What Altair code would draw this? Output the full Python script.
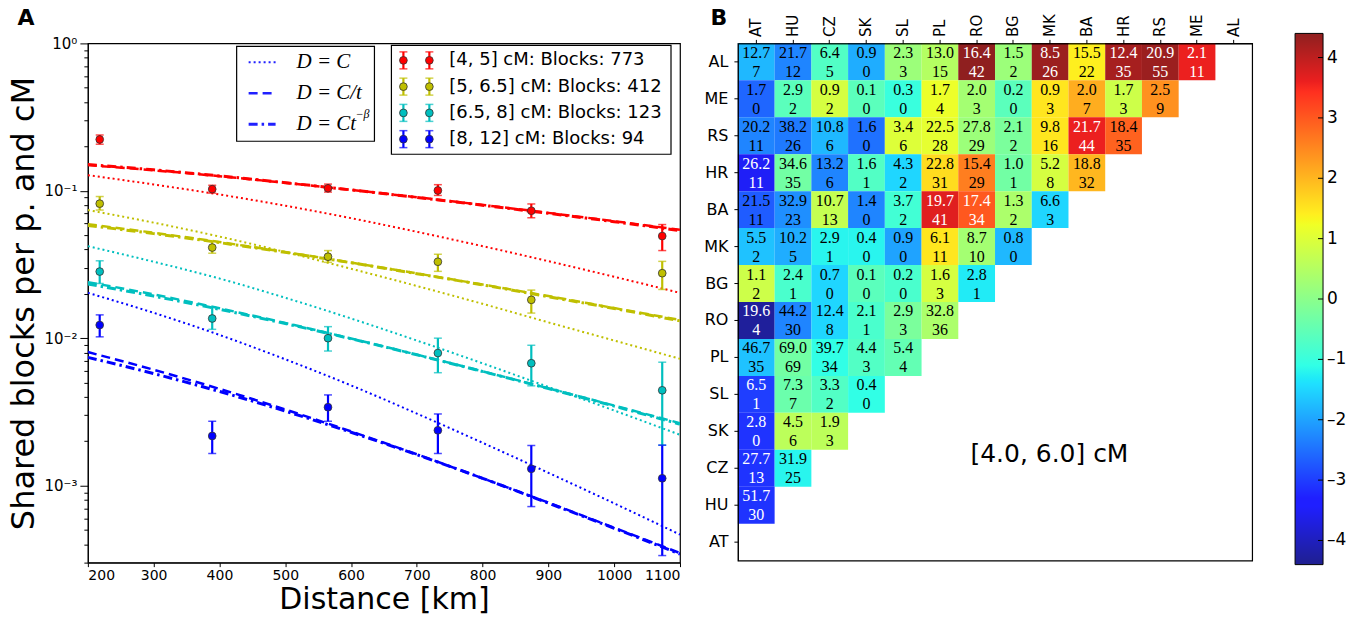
import altair as alt
import pandas as pd

# ---------------- Panel A data ----------------
distance_km = [218, 389, 565, 732, 874, 1073]
series_names = ["[4, 5] cM: Blocks: 773", "[5, 6.5] cM: Blocks: 412",
                "[6.5, 8] cM: Blocks: 123", "[8, 12] cM: Blocks: 94"]
series_colors = ["#ff0000", "#bfbf00", "#00bfbf", "#0000ff"]

obs_mean = [
    [0.223, 0.1026, 0.104, 0.1005, 0.0732, 0.0493],
    [0.0818, 0.0412, 0.0357, 0.033, 0.0182, 0.0276],
    [0.0283, 0.0136, 0.0100, 0.00793, 0.00676, 0.00443],
    [0.01228, 0.00217, 0.0034, 0.00237, 0.0013, 0.00112],
]
obs_low = [
    [0.207, 0.0964, 0.098, 0.093, 0.0656, 0.0393],
    [0.074, 0.0377, 0.0327, 0.0284, 0.0148, 0.0214],
    [0.0235, 0.01148, 0.00818, 0.00583, 0.00475, 0.00188],
    [0.01021, 0.00165, 0.00273, 0.00165, 0.00072, 0.000335],
]
obs_high = [
    [0.239, 0.109, 0.111, 0.110, 0.0814, 0.059],
    [0.0914, 0.0455, 0.0393, 0.0371, 0.0212, 0.0332],
    [0.0335, 0.01626, 0.01197, 0.0100, 0.00895, 0.00687],
    [0.01439, 0.00273, 0.00412, 0.00306, 0.00187, 0.00188],
]

fit_x = [200, 300, 400, 500, 600, 700, 800, 900, 1000, 1100]
model_names = ["D=C", "D=C/t", "D=Ct^-b"]
model_labels = ["D = C", "D = C/t", "D = Ct"]
fit_const = [
    [0.1276, 0.1104, 0.0944, 0.0792, 0.0652, 0.0527, 0.0421, 0.0333, 0.0261, 0.0203],
    [0.0740, 0.0608, 0.0489, 0.0384, 0.0296, 0.0226, 0.0171, 0.0128, 0.00964, 0.00724],
    [0.0421, 0.0330, 0.0254, 0.0188, 0.0136, 0.00964, 0.00675, 0.00467, 0.00323, 0.00221],
    [0.0203, 0.01486, 0.01052, 0.00719, 0.00478, 0.00308, 0.00195, 0.00122, 0.000757, 0.000465],
]
fit_inv_t = [
    [0.1493, 0.1377, 0.1256, 0.1132, 0.1014, 0.0904, 0.0802, 0.0708, 0.0622, 0.0543],
    [0.0593, 0.0519, 0.0449, 0.0384, 0.0326, 0.0275, 0.0231, 0.0193, 0.0160, 0.0133],
    [0.0240, 0.0198, 0.01596, 0.01268, 0.00995, 0.00773, 0.00596, 0.00457, 0.00349, 0.00265],
    [0.00805, 0.00611, 0.00453, 0.00328, 0.00233, 0.00163, 0.00112, 0.000766, 0.000518, 0.000348],
]
fit_power = [
    [0.1507, 0.1387, 0.1262, 0.1135, 0.1014, 0.0902, 0.0798, 0.0703, 0.0617, 0.0537],
    [0.0582, 0.0512, 0.0445, 0.0382, 0.0325, 0.0274, 0.0230, 0.0191, 0.0159, 0.0131],
    [0.0233, 0.0193, 0.0157, 0.01256, 0.00991, 0.00771, 0.00594, 0.00455, 0.00346, 0.00261],
    [0.00741, 0.00575, 0.00435, 0.00320, 0.00230, 0.00162, 0.00112, 0.000760, 0.000513, 0.000343],
]

# ---------------- Panel B data ----------------
pop_cols = ["AT", "HU", "CZ", "SK", "SL", "PL", "RO", "BG", "MK", "BA", "HR", "RS", "ME", "AL"]
pop_rows = ["AL", "ME", "RS", "HR", "BA", "MK", "BG", "RO", "PL", "SL", "SK", "CZ", "HU", "AT"]
cell_top = [
    [12.7, 21.7, 6.4, 0.9, 2.3, 13.0, 16.4, 1.5, 8.5, 15.5, 12.4, 20.9, 2.1],
    [1.7, 2.9, 0.9, 0.1, 0.3, 1.7, 2.0, 0.2, 0.9, 2.0, 1.7, 2.5],
    [20.2, 38.2, 10.8, 1.6, 3.4, 22.5, 27.8, 2.1, 9.8, 21.7, 18.4],
    [26.2, 34.6, 13.2, 1.6, 4.3, 22.8, 15.4, 1.0, 5.2, 18.8],
    [21.5, 32.9, 10.7, 1.4, 3.7, 19.7, 17.4, 1.3, 6.6],
    [5.5, 10.2, 2.9, 0.4, 0.9, 6.1, 8.7, 0.8],
    [1.1, 2.4, 0.7, 0.1, 0.2, 1.6, 2.8],
    [19.6, 44.2, 12.4, 2.1, 2.9, 32.8],
    [46.7, 69.0, 39.7, 4.4, 5.4],
    [6.5, 7.3, 3.3, 0.4],
    [2.8, 4.5, 1.9],
    [27.7, 31.9],
    [51.7],
    [],
]
cell_bottom = [
    [7, 12, 5, 0, 3, 15, 42, 2, 26, 22, 35, 55, 11],
    [0, 2, 2, 0, 0, 4, 3, 0, 3, 7, 3, 9],
    [11, 26, 6, 0, 6, 28, 29, 2, 16, 44, 35],
    [11, 35, 6, 1, 2, 31, 29, 1, 8, 32],
    [11, 23, 13, 0, 2, 41, 34, 2, 3],
    [2, 5, 1, 0, 0, 11, 10, 0],
    [2, 1, 0, 0, 0, 3, 1],
    [4, 30, 8, 1, 3, 36],
    [35, 69, 34, 3, 4],
    [1, 7, 2, 0],
    [0, 6, 3],
    [13, 25],
    [30],
    [],
]
cell_z = [
    [-1.8, -2.3, -0.7, -1.9, 0.2, 0.5, 4.4, 0.2, 4.3, 1.4, 4.2, 4.3, 3.6],
    [-2.6, -0.6, 0.9, -0.6, -1.0, 1.2, 0.3, -0.6, 1.5, 2.1, 0.8, 2.4],
    [-2.3, -2.4, -1.8, -2.5, 1.0, 1.1, 0.2, -0.2, 1.5, 3.6, 2.9],
    [-3.5, -0.3, -2.3, -0.7, -1.5, 1.6, 2.6, -0.3, 0.9, 2.0],
    [-2.7, -2.2, 0.7, -2.3, -0.9, 3.7, 3.0, 0.4, -1.5],
    [-1.7, -1.9, -1.2, -1.2, -2.0, 1.5, 0.3, -1.8],
    [0.8, -0.8, -1.5, -0.6, -0.8, 0.9, -1.3],
    [-4.3, -2.3, -1.5, -0.8, -0.2, 0.4],
    [-1.7, -0.3, -1.1, -0.7, -0.5],
    [-3.0, -0.4, -0.7, -1.1],
    [-3.1, 0.6, 0.6],
    [-3.1, -1.2],
    [-3.1],
    [],
]
z_min, z_max = -4.4, 4.4
colorbar_ticks = [-4, -3, -2, -1, 0, 1, 2, 3, 4]
note_text = "[4.0, 6.0] cM"

# ---------------- styling helpers ----------------
jet_t = [0, 0.11, 0.125, 0.34, 0.35, 0.375, 0.64, 0.65, 0.66, 0.89, 0.91, 1]
jet_rgb = [(0, 0, .5), (0, 0, 1), (0, 0, 1), (0, .86, 1), (0, .9, .968), (.081, 1, .887),
           (.935, 1, .032), (.968, .963, 0), (1, .926, 0), (1, .074, 0), (.909, 0, 0), (.5, 0, 0)]
jet_hex = ["#%02x%02x%02x" % tuple(int(round(c * 255)) for c in rgb) for rgb in jet_rgb]
jet_domain = [z_min + (z_max - z_min) * t for t in jet_t]

SANS = "DejaVu Sans"
SERIF = "Liberation Serif"
CELL_OPACITY = 0.88

# ---------------- Panel A ----------------
pts = pd.DataFrame([
    {"series": s, "distance": d, "share": m, "lo": lo, "hi": hi}
    for i, s in enumerate(series_names)
    for d, m, lo, hi in zip(distance_km, obs_mean[i], obs_low[i], obs_high[i])
])
fit = pd.DataFrame([
    {"series": s, "model": mn, "distance": d, "share": v}
    for mn, table in zip(model_names, [fit_const, fit_inv_t, fit_power])
    for i, s in enumerate(series_names)
    for d, v in zip(fit_x, table[i])
])

color_scale = alt.Scale(domain=series_names, range=series_colors)
dash_scale = alt.Scale(domain=model_names, range=[[2, 3], [9, 5], [9, 4, 2.5, 4]])
width_scale = alt.Scale(domain=model_names, range=[2, 3, 3])

y_ticks = sorted({round(m * 10 ** k, 12) for k in (-4, -3, -2, -1) for m in range(1, 10)
                  if 3e-4 <= m * 10 ** k <= 1} | {1})

x_axis_A = alt.Axis(values=list(range(200, 1101, 100)), title="Distance [km]", format="d",
                    titleFontSize=30, labelFontSize=14, tickSize=4, labelPadding=2,
                    titlePadding=2, labelFont=SANS)
xA = alt.X("distance:Q", scale=alt.Scale(domain=[200, 1100], nice=False, zero=False), axis=x_axis_A)

y_axis_A = alt.Axis(
    values=y_ticks, title="Shared blocks per p. and cM", titleFontSize=32, titlePadding=3,
    labelExpr="datum.value == 1 ? '10⁰' : datum.value == 0.1 ? '10⁻¹' : datum.value == 0.01 ? '10⁻²' : datum.value == 0.001 ? '10⁻³' : ''",
    labelOverlap=False, labelFontSize=15, labelPadding=3, labelFont=SANS,
    tickSize={"condition": {"test": "indexof([1, 0.1, 0.01, 0.001], datum.value) >= 0", "value": 8}, "value": 4},
)
y_scale_A = alt.Scale(type="log", domain=[3e-4, 1], nice=False)


def yA(field):
    return alt.Y(f"{field}:Q", scale=y_scale_A, axis=y_axis_A)


lines = alt.Chart(fit).mark_line(interpolate="monotone", clip=True).encode(
    x=xA, y=yA("share"),
    color=alt.Color("series:N", scale=color_scale, legend=None),
    strokeDash=alt.StrokeDash("model:N", scale=dash_scale, legend=None),
    strokeWidth=alt.StrokeWidth("model:O", scale=width_scale, legend=None),
    detail="model:N",
)
bars = alt.Chart(pts).mark_rule(strokeWidth=2.2).encode(
    x=xA, y=yA("lo"), y2="hi:Q", color=alt.Color("series:N", scale=color_scale, legend=None))
cap_lo = alt.Chart(pts).mark_tick(orient="horizontal", size=8, thickness=1.5).encode(
    x=xA, y=yA("lo"), color=alt.Color("series:N", scale=color_scale, legend=None))
cap_hi = alt.Chart(pts).mark_tick(orient="horizontal", size=8, thickness=1.5).encode(
    x=xA, y=yA("hi"), color=alt.Color("series:N", scale=color_scale, legend=None))
points = alt.Chart(pts).mark_circle(size=60, opacity=1, stroke="#333333", strokeWidth=0.8).encode(
    x=xA, y=yA("share"), fill=alt.Fill("series:N", scale=color_scale, legend=None))

# legend 1 (model line styles)
box1 = alt.Chart(pd.DataFrame({"k": [0]})).mark_rect(fill="white", stroke="black", strokeWidth=1.2).encode(
    x=alt.value(149), x2=alt.value(287), y=alt.value(3), y2=alt.value(98))
leg1 = pd.DataFrame({"model": model_names, "label": model_labels,
                     "ly": [19 + 31 * i for i in range(3)]})
leg1["lx1"] = 161
leg1["lx2"] = 188
leg1["tx"] = 209
leg1_lines = alt.Chart(leg1).mark_rule(color="#2020ff").encode(
    x=alt.X("lx1:Q", scale=None), x2="lx2:Q", y=alt.Y("ly:Q", scale=None),
    strokeDash=alt.StrokeDash("model:N", scale=dash_scale, legend=None),
    strokeWidth=alt.StrokeWidth("model:O", scale=width_scale, legend=None))
leg1_text = alt.Chart(leg1).mark_text(font=SERIF, fontStyle="italic", fontSize=21, align="left",
                                       baseline="middle").encode(
    x=alt.X("tx:Q", scale=None), y=alt.Y("ly:Q", scale=None), text="label:N")
leg1_sup = alt.Chart(pd.DataFrame({"t": ["−β"]})).mark_text(
    font=SERIF, fontStyle="italic", fontSize=12, align="left", baseline="middle").encode(
    x=alt.value(268), y=alt.value(71), text="t:N")

# legend 2 (series)
box2 = alt.Chart(pd.DataFrame({"k": [0]})).mark_rect(fill="white", stroke="black", strokeWidth=1.2).encode(
    x=alt.value(304), x2=alt.value(584), y=alt.value(2), y2=alt.value(111))
leg2 = pd.DataFrame([
    {"series": s, "lx": lx, "ly": 17 + 26.3 * i, "ly1": 17 + 26.3 * i - 8.5, "ly2": 17 + 26.3 * i + 8.5}
    for i, s in enumerate(series_names) for lx in (316, 342)
])
leg2_bars = alt.Chart(leg2).mark_rule(strokeWidth=2.2).encode(
    x=alt.X("lx:Q", scale=None), y=alt.Y("ly1:Q", scale=None), y2="ly2:Q",
    color=alt.Color("series:N", scale=color_scale, legend=None))
leg2_c1 = alt.Chart(leg2).mark_tick(orient="horizontal", size=8, thickness=1.5).encode(
    x=alt.X("lx:Q", scale=None), y=alt.Y("ly1:Q", scale=None),
    color=alt.Color("series:N", scale=color_scale, legend=None))
leg2_c2 = alt.Chart(leg2).mark_tick(orient="horizontal", size=8, thickness=1.5).encode(
    x=alt.X("lx:Q", scale=None), y=alt.Y("ly2:Q", scale=None),
    color=alt.Color("series:N", scale=color_scale, legend=None))
leg2_pts = alt.Chart(leg2).mark_circle(size=60, opacity=1, stroke="#333333", strokeWidth=0.8).encode(
    x=alt.X("lx:Q", scale=None), y=alt.Y("ly:Q", scale=None),
    fill=alt.Fill("series:N", scale=color_scale, legend=None))
leg2_txt_df = pd.DataFrame({"series": series_names, "ly": [17 + 26.3 * i for i in range(4)]})
leg2_txt_df["tx"] = 362
leg2_text = alt.Chart(leg2_txt_df).mark_text(font=SANS, fontSize=18, align="left", baseline="middle").encode(
    x=alt.X("tx:Q", scale=None), y=alt.Y("ly:Q", scale=None), text="series:N")

label_A = alt.Chart(pd.DataFrame({"t": ["A"]})).mark_text(
    font=SANS, fontSize=22, fontWeight="bold", align="center", baseline="middle").encode(
    x=alt.value(-62), y=alt.value(-25), text="t:N")

panelA = alt.layer(lines, bars, cap_lo, cap_hi, points,
                   box1, leg1_lines, leg1_text, leg1_sup,
                   box2, leg2_bars, leg2_c1, leg2_c2, leg2_pts, leg2_text, label_A
                   ).properties(width=593, height=520)

# ---------------- Panel B ----------------
cells = pd.DataFrame([
    {"row": r, "col": pop_cols[j], "top": f"{t:.1f}", "bottom": str(b), "z": z}
    for i, r in enumerate(pop_rows)
    for j, (t, b, z) in enumerate(zip(cell_top[i], cell_bottom[i], cell_z[i]))
])

xB = alt.X("col:N", sort=pop_cols, scale=alt.Scale(domain=pop_cols, paddingInner=0, paddingOuter=0),
           axis=alt.Axis(orient="top", title=None, labelAngle=270, labelAlign="left",
                         labelBaseline="middle", labelFontSize=15, tickSize=4, labelPadding=3,
                         labelFont=SANS))
yB = alt.Y("row:N", sort=pop_rows, scale=alt.Scale(domain=pop_rows, paddingInner=0, paddingOuter=0),
           axis=alt.Axis(title=None, labelFontSize=16, tickSize=4, labelPadding=6, labelFont=SANS))

rects = alt.Chart(cells).mark_rect(opacity=CELL_OPACITY).encode(
    x=xB, y=yB,
    color=alt.Color("z:Q", scale=alt.Scale(domain=jet_domain, range=jet_hex, interpolate="rgb"),
                    legend=None))
txt_color = alt.condition("abs(datum.z) >= 2.95", alt.value("white"), alt.value("black"))
text_top = alt.Chart(cells).mark_text(font=SERIF, fontSize=16, dy=-9).encode(
    x=xB, y=yB, text="top:N", color=txt_color)
text_bot = alt.Chart(cells).mark_text(font=SERIF, fontSize=16, dy=10).encode(
    x=xB, y=yB, text="bottom:N", color=txt_color)
note = alt.Chart(pd.DataFrame({"t": [note_text]})).mark_text(
    font=SANS, fontSize=25, align="center", baseline="middle").encode(
    x=alt.value(312), y=alt.value(411), text="t:N")
label_B = alt.Chart(pd.DataFrame({"t": ["B"]})).mark_text(
    font=SANS, fontSize=22, fontWeight="bold", align="center", baseline="middle").encode(
    x=alt.value(-19), y=alt.value(-25), text="t:N")

heat = alt.layer(rects, text_top, text_bot, note, label_B)

# colour bar drawn inside panel B with its own value scale
cb_scale = alt.Scale(domain=[z_min, z_max], range=[522, -10], nice=False, zero=False)
jet_gradient = alt.LinearGradient(
    gradient="linear", x1=0, x2=0, y1=1, y2=0,
    stops=[alt.GradientStop(offset=t, color=c) for t, c in zip(jet_t, jet_hex)])
cb_rect = alt.Chart(pd.DataFrame({"lo": [z_min], "hi": [z_max]})).mark_rect(
    fill=jet_gradient, fillOpacity=CELL_OPACITY, stroke="black", strokeWidth=1).encode(
    x=alt.value(558), x2=alt.value(586),
    y=alt.Y("lo:Q", scale=cb_scale, axis=None), y2="hi:Q")
cb_df = pd.DataFrame({"v": colorbar_ticks,
                      "lab": [str(v).replace("-", "–") for v in colorbar_ticks]})
cb_ticks = alt.Chart(cb_df).mark_rule(color="black", strokeWidth=1).encode(
    x=alt.value(581), x2=alt.value(586), y=alt.Y("v:Q", scale=cb_scale, axis=None))
cb_labels = alt.Chart(cb_df).mark_text(font=SANS, fontSize=17, align="left", baseline="middle").encode(
    x=alt.value(590), y=alt.Y("v:Q", scale=cb_scale, axis=None), text="lab:N")
cbar = alt.layer(cb_rect, cb_ticks, cb_labels)

panelB = alt.layer(heat, cbar).resolve_scale(y="independent").properties(width=515, height=518)

chart = alt.hconcat(panelA, panelB, spacing=21).resolve_scale(
    color="independent", fill="independent", strokeDash="independent", strokeWidth="independent",
    x="independent", y="independent"
).properties(
    padding={"left": 7, "top": 6, "right": 0, "bottom": 0}, background="white"
).configure_view(stroke="black", strokeWidth=1.2).configure_axis(
    grid=False, domainColor="black", tickColor="black", labelColor="black", titleColor="black",
    titleFont=SANS, titleFontWeight="normal"
)

chart.save("out.html", embed_options={"renderer": "svg", "actions": False})
